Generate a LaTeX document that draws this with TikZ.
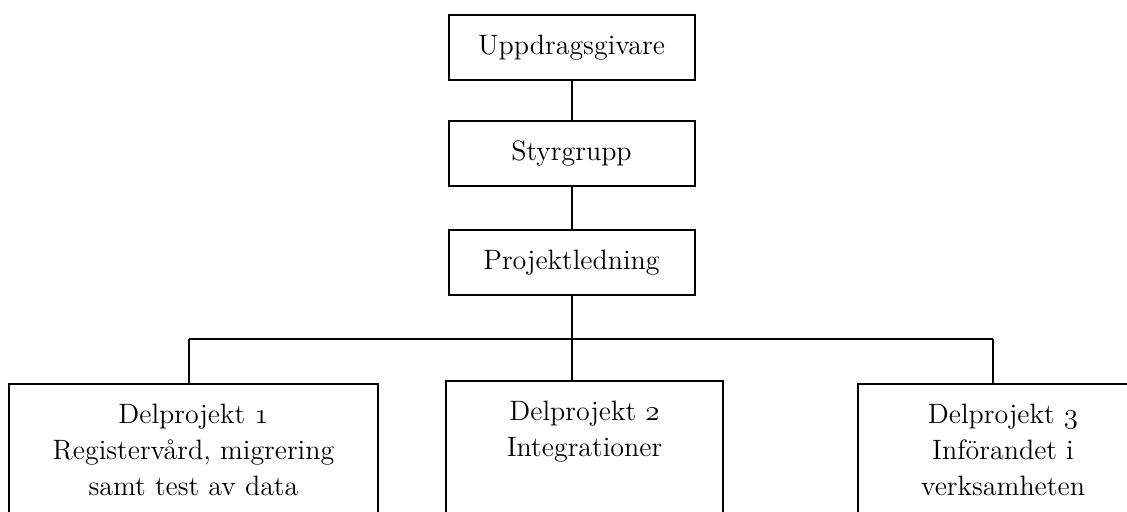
\documentclass[tikz,border=0pt]{standalone}
\usepackage{fontspec}
\usetikzlibrary{positioning,calc}
\newcommand\osnum[1]{{\fontencoding{OML}\fontfamily{cmm}\fontseries{m}\fontshape{it}\selectfont #1}}
\tikzset{orgbox/.style={draw, line width=1pt, outer sep=0pt, inner sep=0pt, align=center, font=\fontsize{14}{18}\selectfont}}
\tikzset{topbox/.style={orgbox, minimum width=123pt, minimum height=32.5pt}}
\tikzset{subbox/.style={orgbox, minimum height=66pt}}
\tikzset{conn/.style={draw, line width=1pt}}

\begin{document}
\begin{tikzpicture}[x=0.5pt, y=-0.5pt]
  \useasboundingbox (0,0) rectangle (1127,512);
  \clip (0,0) rectangle (1127,512);
  \node[topbox] (U) at (571.5,47.5) {Uppdragsgivare};
  \node[topbox, below=20.5pt of U] (S) {Styrgrupp};
  \node[topbox, below=22pt of S] (P) {Projektledning};
%
  \node[subbox, minimum width=184.5pt] (D1) at (193.5,450) {Delprojekt \osnum{1}\\Registervård, migrering\\samt test av data};
  \node[subbox, minimum width=138.5pt] (D2) at (584.5,447) {Delprojekt \osnum{2}\\Integrationer\hspace*{9pt}\\\mbox{}};
  \node[subbox, minimum width=145pt] (D3) at (1003,450) {Delprojekt \osnum{3}\\Införandet i\\verksamheten};
%
  \coordinate (bus) at ($(P.south)+(0,-22pt)$);
  \coordinate (j1) at (189,339);
  \coordinate (j3) at (993,339);
  \draw[conn] (U) -- (S);
  \draw[conn] (S) -- (P);
  \draw[conn] (P) -- (bus);
  \draw[conn] (j1) -- (j3);
  \draw[conn] (j1) -- (j1 |- D1.north);
  \draw[conn] (bus) -- (bus |- D2.north);
  \draw[conn] (j3) -- (j3 |- D3.north);
  % \draw[conn] (P) |- (D1);
\end{tikzpicture}
\end{document}
